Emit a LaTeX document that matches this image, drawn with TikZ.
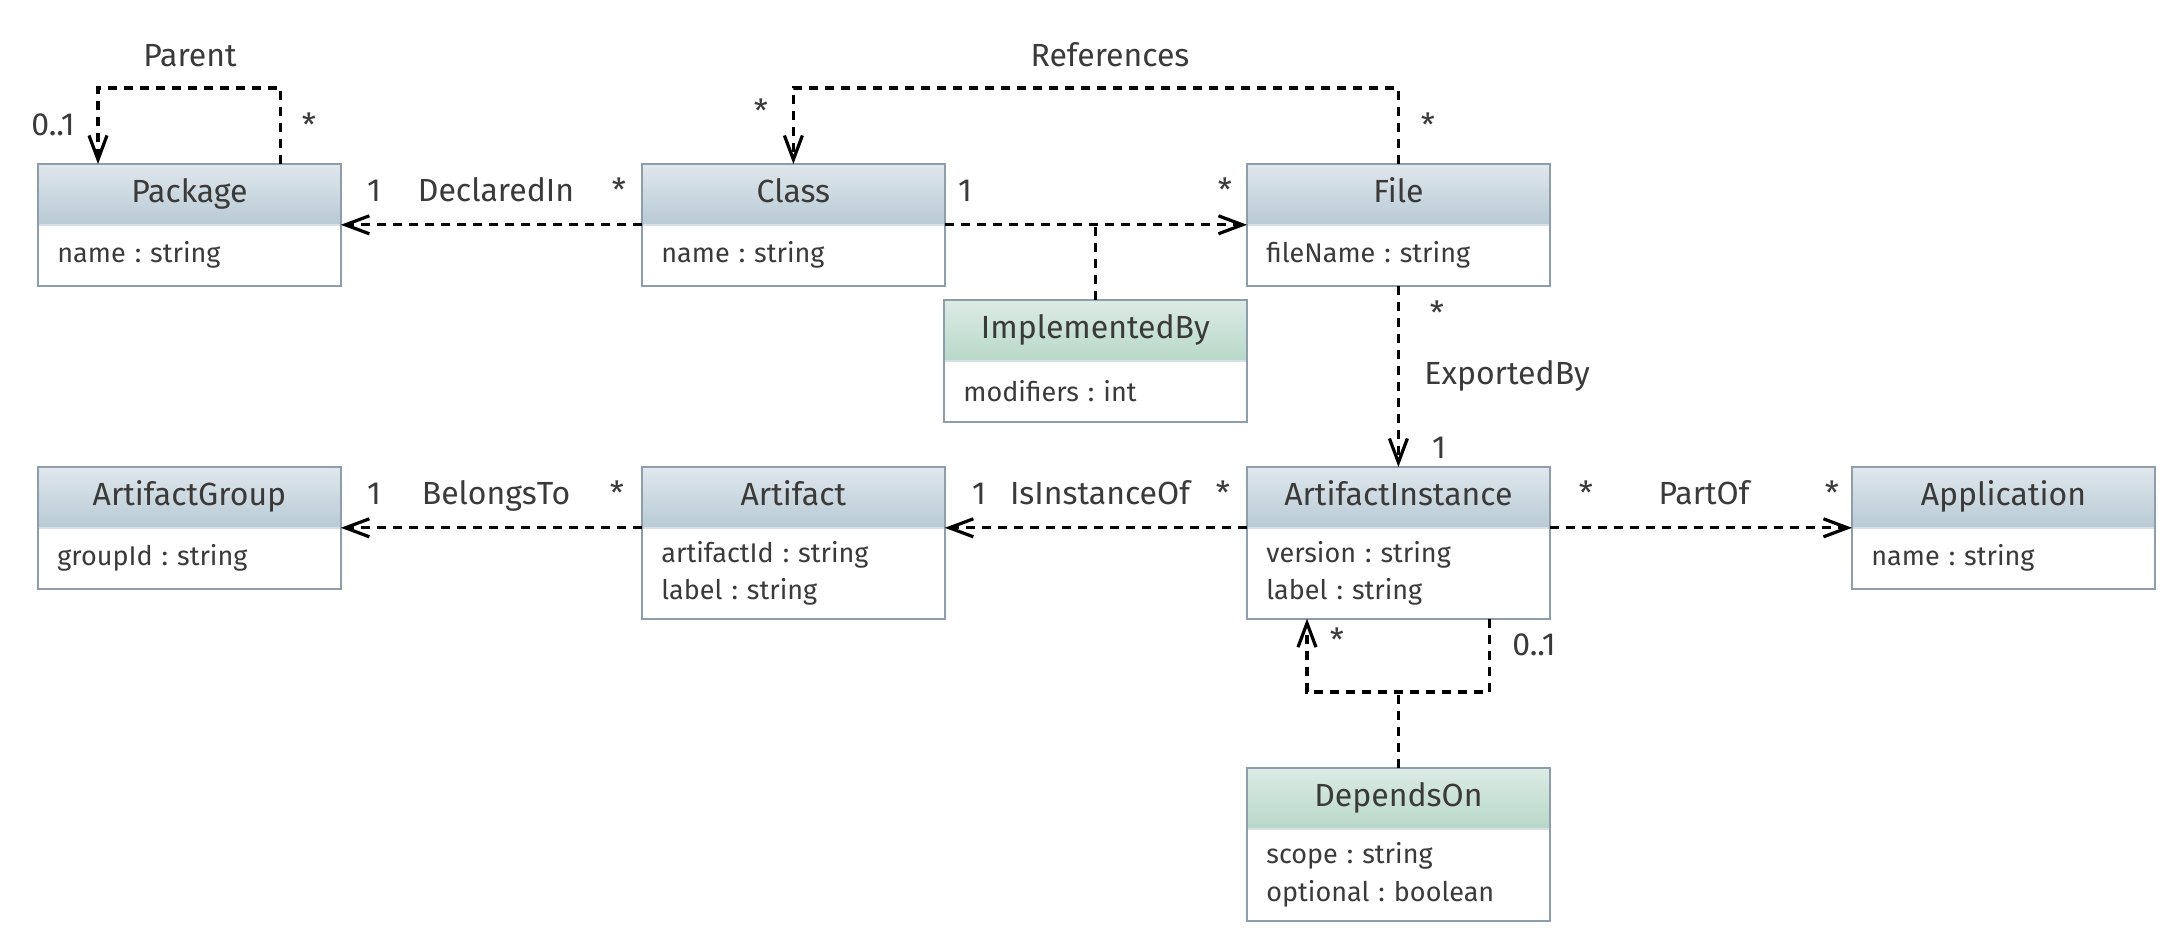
\documentclass[tikz,border=0pt]{standalone}
\usepackage{fontspec}
\setmainfont{Fira Sans}
\frenchspacing
\usetikzlibrary{arrows.meta}
\definecolor{hdtop}{RGB}{224,231,237}
\definecolor{hdbot}{RGB}{184,202,212}
\definecolor{grtop}{RGB}{220,235,229}
\definecolor{grbot}{RGB}{184,216,201}
\definecolor{bord}{RGB}{142,157,171}
\definecolor{sepl}{RGB}{214,224,230}
\definecolor{txt}{RGB}{58,58,58}
\tikzset{
  hdr/.style={top color=hdtop, bottom color=hdbot,
    minimum width=151pt, minimum height=30pt, inner sep=0pt, anchor=north west,
    font=\fontsize{16}{19}\selectfont, text=txt, text height=11.5pt, text depth=3.5pt},
  ghdr/.style={hdr, top color=grtop, bottom color=grbot},
  body/.style={fill=white, minimum width=151pt, anchor=north,
    inner xsep=9.5pt, inner ysep=0pt, text width=132pt, align=left,
    font=\fontsize{13.5}{18.75}\selectfont, text=txt},
  frame/.style={draw=bord, line width=1pt},
  sep/.style={draw=sepl, line width=0.8pt},
  dline/.style={draw=black, line width=1.6pt, dash pattern=on 4.5pt off 3.5pt},
  assoc/.style={dline, -{Straight Barb[length=12pt,width=9pt]}},
  lbl/.style={font=\fontsize{16}{19}\selectfont, text=txt, inner sep=0pt, anchor=base},
}
\newcommand\umlbox[7]{%
  \node[#7] (#1) at (#2,#3) {#4};
  \node[body, minimum height=#6] (#1b) at (#1.south) {#5};
  \draw[sep] (#1.south west) -- (#1.south east);
  \draw[frame] (#1.north west) rectangle (#1b.south east);
}
\begin{document}
\begin{tikzpicture}[x=0.5pt,y=-0.5pt]
\fill[white] (0,0) rectangle (2165,933);
\useasboundingbox (0,0) rectangle (2165,933);

\umlbox{pkg}{38}{164}{Package}{name : string}{30pt}{hdr}
\umlbox{cls}{642}{164}{Class}{name : string}{30pt}{hdr}
\umlbox{file}{1247}{164}{File}{fileName : string}{30pt}{hdr}
\umlbox{impl}{944}{300}{ImplementedBy}{modifiers : int}{30pt}{ghdr}
\umlbox{grp}{38}{467}{ArtifactGroup}{groupId : string}{30pt}{hdr}
\umlbox{art}{642}{467}{Artifact}{artifactId : string\\label : string}{45pt}{hdr}
\umlbox{inst}{1247}{467}{ArtifactInstance}{version : string\\label : string}{45pt}{hdr}
\umlbox{app}{1852}{467}{Application}{name : string}{30pt}{hdr}
\umlbox{dep}{1247}{768}{DependsOn}{scope : string\\optional : boolean}{45.5pt}{ghdr}

\coordinate (top) at (0,88);
\coordinate (djn) at (0,692);
\coordinate (pR) at ([xshift=-30pt]pkg.north east);
\coordinate (pL) at ([xshift=30pt]pkg.north west);
\coordinate (iR) at ([xshift=-30pt]instb.south east);
\coordinate (iL) at ([xshift=30pt]instb.south west);

% Parent
\draw[assoc] (pR) -- (pR |- top) -| (pL);
% References
\draw[assoc] (file.north) -- (file.north |- top) -| (cls.north);
% DeclaredIn
\draw[assoc] (cls.south west) -- (pkg.south east);
% ImplementedBy
\draw[assoc] (cls.south east) -- (file.south west);
\draw[dline] (impl.north) -- (impl.north |- cls.south);
% ExportedBy
\draw[assoc] (fileb.south) -- (inst.north);
% BelongsTo
\draw[assoc] (art.south west) -- (grp.south east);
% IsInstanceOf
\draw[assoc] (inst.south west) -- (art.south east);
% PartOf
\draw[assoc] (inst.south east) -- (app.south west);
% DependsOn
\draw[assoc] (iR) -- (iR |- djn) -| (iL);
\draw[dline] (dep.north) -- (dep.north |- djn);

% labels
\node[lbl] (lpar) at (190,66) {Parent};
\node[lbl] (lpar1) at (53,135) {0..1};
\node[lbl] (lpar2) at (309,136) {*};
\node[lbl] (lref) at (1110,66) {References};
\node[lbl] (lref1) at (761,122) {*};
\node[lbl] (lref2) at (1428,136) {*};
\node[lbl] (ldec1) at (374,201) {1};
\node[lbl] (ldec) at (496,201) {DeclaredIn};
\node[lbl] (ldec2) at (619,201) {*};
\node[lbl] (limp1) at (965,201) {1};
\node[lbl] (limp2) at (1225,201) {*};
\node[lbl] (lexp1) at (1437,324) {*};
\node[lbl, anchor=base west] (lexp) at (1424,384) {ExportedBy};
\node[lbl] (lexp2) at (1439,458) {1};
\node[lbl] (lbel1) at (374,504) {1};
\node[lbl] (lbel) at (496,504) {BelongsTo};
\node[lbl] (lbel2) at (617,504) {*};
\node[lbl] (lisi1) at (979,504) {1};
\node[lbl] (lisi) at (1100,504) {IsInstanceOf};
\node[lbl] (lisi2) at (1223,504) {*};
\node[lbl] (lpo1) at (1586,504) {*};
\node[lbl] (lpo) at (1704,504) {PartOf};
\node[lbl] (lpo2) at (1832,504) {*};
\node[lbl] (ldep1) at (1337,651) {*};
\node[lbl] (ldep2) at (1534,655) {0..1};
\end{tikzpicture}
\end{document}
